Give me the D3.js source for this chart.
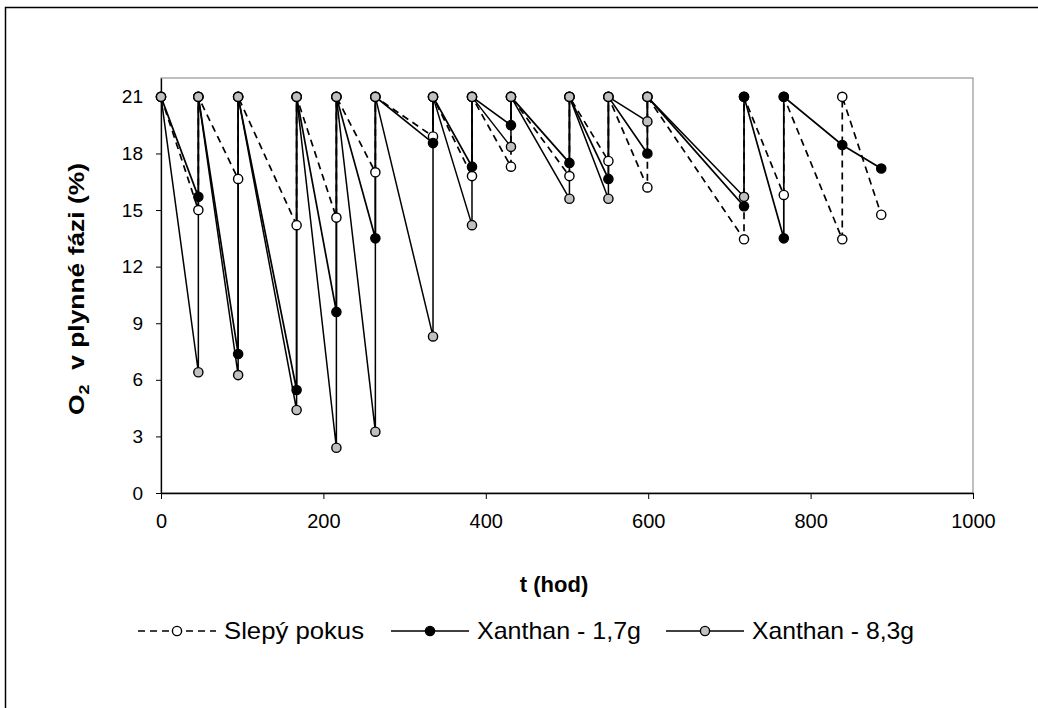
<!DOCTYPE html>
<html>

<head>
    <meta charset="utf-8">
    <title>O2 v plynne fazi</title>
    <script type="text/javascript" src="https://d3js.org/d3.v7.min.js"></script>
    <style>
        body {
            margin: 0;
            background: #fff;
        }
        svg {
            display: block;
            font-family: "Liberation Sans", Arial, sans-serif;
        }
    </style>
</head>

<body>
</body>

<script type="text/javascript">
    var w = 1038;
    var h = 708;

    // sampling times (hod) - after each sample the bottle is refilled to 21 %
    var times = [0, 46, 95, 167, 216, 264, 335, 383, 431, 503, 551, 599, 718, 767, 839, 887];

    // O2 before refill, one value per time (null = not measured)
    var slepy = [21, 15.0, 16.65, 14.2, 14.6, 17.0, 18.9, 16.8, 17.3, 16.8, 17.6, 16.2, 13.45, 15.8, 13.45, 14.75];
    var xan17 = [21, 15.7, 7.37, 5.46, 9.6, 13.5, 18.55, 17.3, 19.5, 17.5, 16.65, 18.0, 15.2, 13.5, 18.45, 17.2];
    var xan83 = [21, 6.4, 6.25, 4.4, 2.4, 3.25, 8.3, 14.2, 18.35, 15.6, 15.6, 19.7, 15.7, null, null, null];

    // index of the samples after which the gas was refilled to 21 %
    var refillSlepy = [1, 2, 3, 4, 5, 6, 7, 8, 9, 10, 11, 12, 13, 14];
    var refill17 = [1, 2, 3, 4, 5, 6, 7, 8, 9, 10, 11, 12, 13];
    var refill83 = [1, 2, 3, 4, 5, 6, 7, 8, 9, 10, 11];

    var seriesNames = ["Slepý pokus", "Xanthan - 1,7g", "Xanthan - 8,3g"];
    var xTicks = [0, 200, 400, 600, 800, 1000];
    var yTicks = [0, 3, 6, 9, 12, 15, 18, 21];

    function buildPoints(vals, refills) {
        var pts = [];
        vals.forEach(function(v, i) {
            if (v == null) return;
            pts.push({ t: times[i], v: v });
            if (refills.indexOf(i) >= 0) pts.push({ t: times[i], v: 21 });
        });
        return pts;
    }

    var series = [
        { name: seriesNames[0], pts: buildPoints(slepy, refillSlepy), fill: "#fff", dash: "7,5", width: 1.7 },
        { name: seriesNames[1], pts: buildPoints(xan17, refill17), fill: "#000", dash: null, width: 1.7 },
        { name: seriesNames[2], pts: buildPoints(xan83, refill83), fill: "#c0c0c0", dash: null, width: 1.5 }
    ];

    // plot area edges (px)
    var pLeft = 161, pRight = 973, pTop = 78, pBottom = 493;

    var xScale = d3.scaleLinear().domain([0, 1000]).range([pLeft, pRight]);
    var yScale = d3.scaleLinear().domain([0, 22]).range([pBottom, pTop]);

    var svg = d3.select("body").append("svg").attr("width", w).attr("height", h);

    // outer chart frame
    svg.append("rect")
        .attr("x", 5.5).attr("y", 7.5)
        .attr("width", 1100).attr("height", 800)
        .attr("fill", "none").attr("stroke", "#000").attr("stroke-width", 1.5);

    // plot area
    svg.append("rect")
        .attr("x", pLeft).attr("y", pTop)
        .attr("width", pRight - pLeft).attr("height", pBottom - pTop)
        .attr("fill", "none").attr("stroke", "#808080").attr("stroke-width", 1);

    var xAxis = svg.append("g")
        .attr("transform", "translate(0," + pBottom + ")")
        .call(d3.axisBottom(xScale).tickValues(xTicks).tickFormat(d3.format("d"))
            .tickSize(6).tickSizeOuter(0).tickPadding(15));
    var yAxis = svg.append("g")
        .attr("transform", "translate(" + pLeft + ",0)")
        .call(d3.axisLeft(yScale).tickValues(yTicks).tickSize(5).tickSizeOuter(0).tickPadding(13));

    xAxis.selectAll("text").attr("font-size", 20);
    yAxis.selectAll("text").attr("font-size", 19);
    [xAxis, yAxis].forEach(function(a) {
        a.selectAll("text").attr("fill", "#000")
            .attr("font-family", "Liberation Sans, Arial, sans-serif");
        a.select(".domain").attr("stroke", "#000").attr("stroke-width", 1.3);
        a.selectAll(".tick line").attr("stroke", "#000");
    });

    var line = d3.line()
        .x(function(d) { return xScale(d.t); })
        .y(function(d) { return yScale(d.v); });

    series.forEach(function(s) {
        svg.append("path")
            .datum(s.pts)
            .attr("d", line)
            .attr("fill", "none")
            .attr("stroke", "#000")
            .attr("stroke-width", s.width)
            .attr("stroke-dasharray", s.dash);
    });

    series.forEach(function(s) {
        svg.append("g").selectAll("circle")
            .data(s.pts)
            .enter()
            .append("circle")
            .attr("cx", function(d) { return xScale(d.t); })
            .attr("cy", function(d) { return yScale(d.v); })
            .attr("r", 4.6)
            .attr("fill", s.fill)
            .attr("stroke", "#000")
            .attr("stroke-width", 1.4);
    });

    // axis titles
    svg.append("text")
        .attr("x", 554).attr("y", 592)
        .attr("text-anchor", "middle")
        .attr("font-size", 22).attr("font-weight", "bold")
        .text("t (hod)");

    var yt = svg.append("text")
        .attr("transform", "translate(84,289) rotate(-90)")
        .attr("text-anchor", "middle")
        .attr("font-size", 22).attr("font-weight", "bold")
        .attr("textLength", 252).attr("lengthAdjust", "spacingAndGlyphs");
    yt.append("tspan").text("O");
    yt.append("tspan").attr("font-size", 15).attr("dy", 5).text("2");
    yt.append("tspan").attr("dy", -5).attr("xml:space", "preserve").text("  v plynné fázi (%)");

    // legend
    var legendX = [138, 391, 666];
    var legendTextW = [140, 164, 162];
    series.forEach(function(s, i) {
        var g = svg.append("g").attr("transform", "translate(" + legendX[i] + ",631)");
        g.append("line")
            .attr("x1", 0).attr("x2", 78).attr("y1", 0).attr("y2", 0)
            .attr("stroke", "#000").attr("stroke-width", s.width)
            .attr("stroke-dasharray", s.dash);
        g.append("circle")
            .attr("cx", 39).attr("cy", 0).attr("r", 4.6)
            .attr("fill", s.fill).attr("stroke", "#000").attr("stroke-width", 1.4);
        g.append("text")
            .attr("x", 86).attr("y", 8)
            .attr("font-size", 24)
            .attr("textLength", legendTextW[i]).attr("lengthAdjust", "spacingAndGlyphs")
            .text(s.name);
    });
</script>
</html>
